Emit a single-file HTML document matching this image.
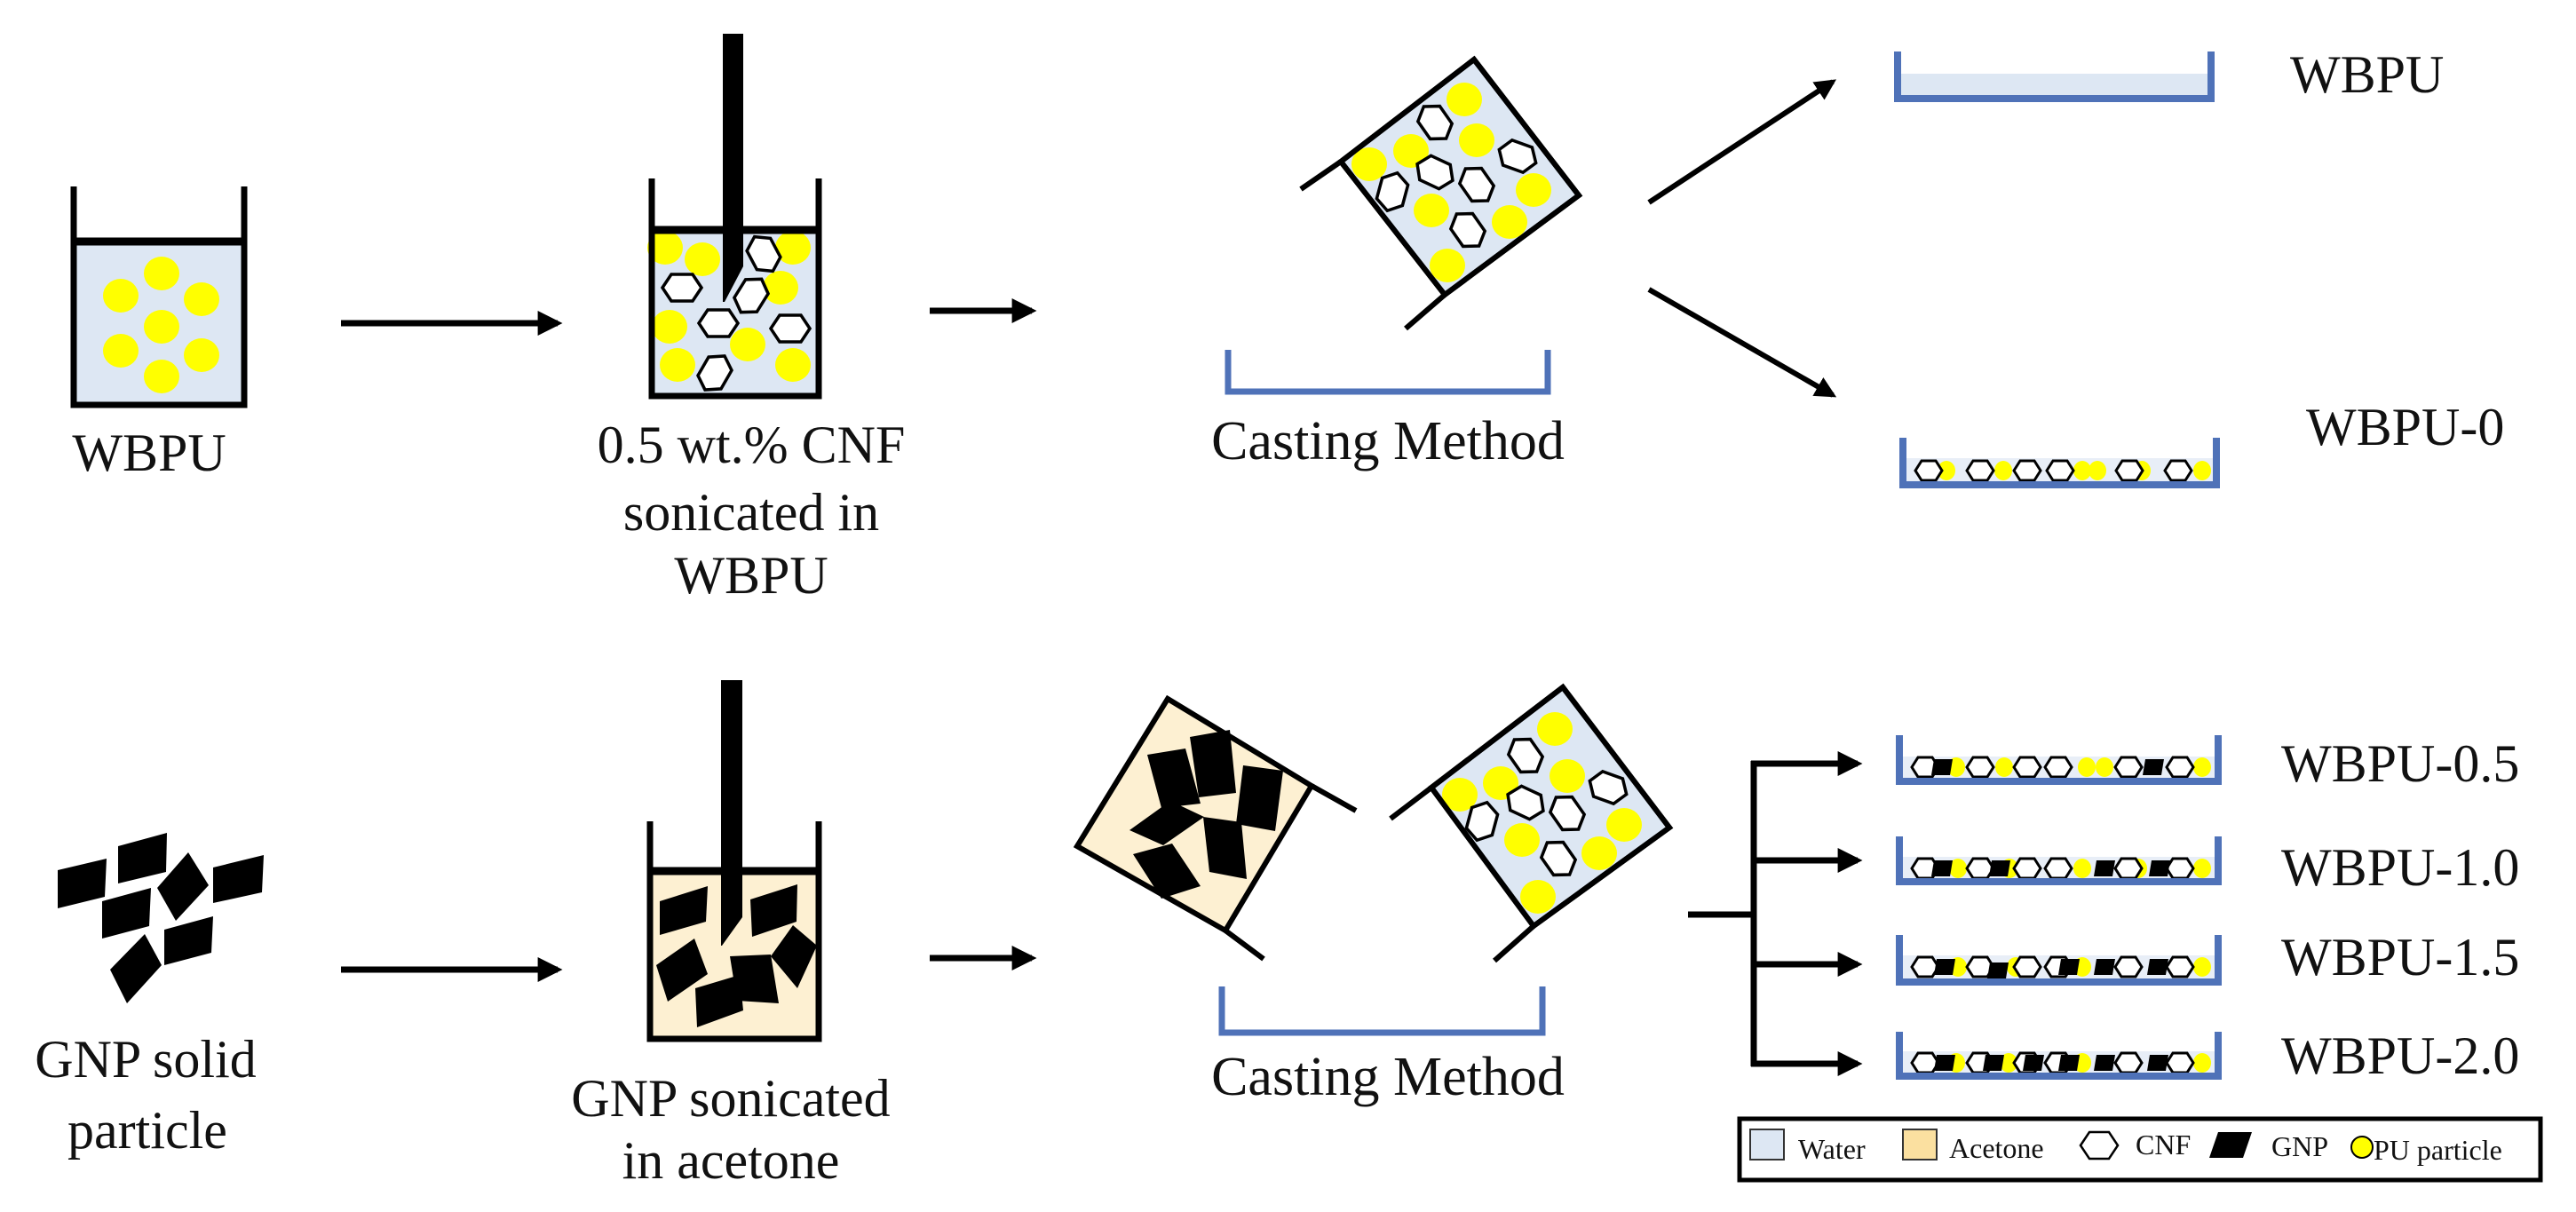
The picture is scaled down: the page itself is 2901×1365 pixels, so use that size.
<!DOCTYPE html>
<html><head><meta charset="utf-8"><style>
html,body{margin:0;padding:0;background:#fff}
svg{display:block}
text{font-family:"Liberation Serif",serif;fill:#111}
</style></head><body>
<svg width="2901" height="1365" viewBox="0 0 2901 1365" xmlns="http://www.w3.org/2000/svg">
<defs>
<marker id="ah" viewBox="0 0 10 10" refX="8" refY="5" markerWidth="4" markerHeight="4" orient="auto" markerUnits="strokeWidth"><path d="M0,0 L10,5 L0,10 z" fill="#000"/></marker>
<polygon id="hx" points="-22,0 -12,-15 12,-15 22,0 12,15 -12,15" fill="#fff" stroke="#000" stroke-width="3.5"/>
<polygon id="sh" points="-15,0 -8,-11 8,-11 15,0 8,11 -8,11" fill="#fff" stroke="#000" stroke-width="3"/>
<polygon id="sg" points="-9,-9 12,-9 9,9 -12,9" fill="#000"/>
<ellipse id="sy" rx="10" ry="11" fill="#ffff00"/>
<ellipse id="yd" rx="20" ry="19" fill="#ffff00"/>
</defs>

<!-- Beaker 1 -->
<rect x="83" y="272" width="192" height="184" fill="#dde7f3"/>
<path d="M83,210 V456 H275 V210" fill="none" stroke="#000" stroke-width="7"/>
<line x1="80" y1="272" x2="278" y2="272" stroke="#000" stroke-width="9"/>
<use href="#yd" x="182" y="308"/><use href="#yd" x="136" y="333"/><use href="#yd" x="227" y="337"/>
<use href="#yd" x="182" y="368"/><use href="#yd" x="136" y="395"/><use href="#yd" x="227" y="400"/><use href="#yd" x="182" y="424"/>
<text x="168" y="530" font-size="60" text-anchor="middle">WBPU</text>

<line x1="384" y1="364" x2="628" y2="364" stroke="#000" stroke-width="7" marker-end="url(#ah)"/>

<!-- Beaker 2 -->
<rect x="734" y="259" width="188" height="185" fill="#dde7f3"/>
<use href="#yd" x="749" y="279"/><use href="#yd" x="791" y="292"/><use href="#yd" x="893" y="279"/><use href="#yd" x="879" y="324"/>
<use href="#yd" x="754" y="368"/><use href="#yd" x="842" y="388"/><use href="#yd" x="763" y="411"/><use href="#yd" x="893" y="411"/>
<use href="#hx" transform="translate(768,324)"/>
<use href="#hx" transform="translate(860,286) rotate(62)"/>
<use href="#hx" transform="translate(846,333) rotate(-58)"/>
<use href="#hx" transform="translate(809,364)"/>
<use href="#hx" transform="translate(890,370)"/>
<use href="#hx" transform="translate(805,420) rotate(-60)"/>
<path d="M734,201 V446 H922 V201" fill="none" stroke="#000" stroke-width="7"/>
<line x1="731" y1="259" x2="925" y2="259" stroke="#000" stroke-width="9"/>
<polygon points="814,38 837,38 837,300 816,340 814,340" fill="#000"/>
<text x="846" y="521" font-size="60" text-anchor="middle">0.5 wt.% CNF</text>
<text x="846" y="597" font-size="60" text-anchor="middle">sonicated in</text>
<text x="846" y="668" font-size="60" text-anchor="middle">WBPU</text>

<line x1="1047" y1="350" x2="1162" y2="350" stroke="#000" stroke-width="7" marker-end="url(#ah)"/>

<!-- Top tilted container -->
<polygon points="1660,67 1778,220 1627,332 1510,182" fill="#dde7f3" stroke="#000" stroke-width="6"/>
<use href="#yd" x="1649" y="112"/><use href="#yd" x="1663" y="158"/><use href="#yd" x="1589" y="170"/><use href="#yd" x="1542" y="185"/>
<use href="#yd" x="1727" y="214"/><use href="#yd" x="1612" y="237"/><use href="#yd" x="1700" y="250"/><use href="#yd" x="1630" y="299"/>
<use href="#hx" transform="translate(1616,138) rotate(55)"/>
<use href="#hx" transform="translate(1709,176) rotate(20)"/>
<use href="#hx" transform="translate(1616,194) rotate(25)"/>
<use href="#hx" transform="translate(1663,208) rotate(55)"/>
<use href="#hx" transform="translate(1568,216) rotate(-75)"/>
<use href="#hx" transform="translate(1653,259) rotate(55)"/>
<polygon points="1660,67 1778,220 1627,332 1510,182" fill="none" stroke="#000" stroke-width="6"/>
<line x1="1510" y1="182" x2="1465" y2="213" stroke="#000" stroke-width="6"/>
<line x1="1627" y1="332" x2="1583" y2="370" stroke="#000" stroke-width="6"/>

<path d="M1383,394 V441 H1743 V394" fill="none" stroke="#4f72b8" stroke-width="7"/>
<text x="1563" y="517" font-size="62" text-anchor="middle">Casting Method</text>

<line x1="1857" y1="228" x2="2064" y2="92" stroke="#000" stroke-width="6" marker-end="url(#ah)"/>
<line x1="1857" y1="326" x2="2064" y2="445" stroke="#000" stroke-width="6" marker-end="url(#ah)"/>

<!-- WBPU tray -->
<rect x="2138" y="83" width="351" height="28" fill="#dde7f3"/>
<path d="M2137,58 V111 H2490 V58" fill="none" stroke="#4f72b8" stroke-width="8"/>
<text x="2579" y="104" font-size="60">WBPU</text>

<!-- WBPU-0 tray -->
<rect x="2142" y="516" width="354" height="30" fill="#e8eef7"/>
<use href="#sy" x="2192" y="530"/><use href="#sy" x="2256" y="530"/><use href="#sy" x="2345" y="530"/><use href="#sy" x="2362" y="530"/><use href="#sy" x="2412" y="530"/><use href="#sy" x="2480" y="530"/>
<use href="#sh" x="2172" y="530"/><use href="#sh" x="2230" y="530"/><use href="#sh" x="2283" y="530"/><use href="#sh" x="2320" y="530"/><use href="#sh" x="2398" y="530"/><use href="#sh" x="2453" y="530"/>
<path d="M2143,493 V546 H2496 V493" fill="none" stroke="#4f72b8" stroke-width="8"/>
<text x="2597" y="501" font-size="60">WBPU-0</text>

<!-- Bottom row -->
<g fill="#000">
<polygon points="65,980 120,967 118,1010 65,1023"/>
<polygon points="133,953 188,938 187,982 133,995"/>
<polygon points="212,960 235,997 198,1037 177,1000"/>
<polygon points="240,977 297,963 295,1005 240,1017"/>
<polygon points="115,1015 170,1000 168,1043 115,1057"/>
<polygon points="185,1047 240,1032 238,1073 185,1087"/>
<polygon points="163,1052 182,1087 143,1130 124,1092"/>
</g>
<text x="164" y="1213" font-size="60" text-anchor="middle">GNP solid</text>
<text x="166" y="1293" font-size="60" text-anchor="middle">particle</text>

<line x1="384" y1="1092" x2="628" y2="1092" stroke="#000" stroke-width="7" marker-end="url(#ah)"/>

<!-- Beaker 3 -->
<rect x="732" y="983" width="190" height="185" fill="#fdf0d2"/>
<g fill="#000">
<polygon points="743,1015 797,998 795,1038 743,1053"/>
<polygon points="845,1013 898,996 897,1038 847,1055"/>
<polygon points="739,1087 782,1057 797,1097 752,1128"/>
<polygon points="868,1077 893,1042 920,1065 898,1113"/>
<polygon points="822,1077 868,1075 877,1130 830,1127"/>
<polygon points="783,1113 833,1098 837,1138 785,1157"/>
</g>
<path d="M732,925 V1170 H922 V925" fill="none" stroke="#000" stroke-width="7"/>
<line x1="729" y1="981" x2="925" y2="981" stroke="#000" stroke-width="9"/>
<polygon points="812,766 836,766 836,1033 813,1065 812,1065" fill="#000"/>
<text x="823" y="1257" font-size="60" text-anchor="middle">GNP sonicated</text>
<text x="823" y="1327" font-size="60" text-anchor="middle">in acetone</text>

<line x1="1047" y1="1079" x2="1162" y2="1079" stroke="#000" stroke-width="7" marker-end="url(#ah)"/>

<!-- Beige tilted container -->
<polygon points="1315,787 1477,885 1380,1048 1213,953" fill="#fdf0d2" stroke="#000" stroke-width="6"/>
<g fill="#000">
<polygon points="1292,850 1335,843 1352,905 1308,910"/>
<polygon points="1340,830 1385,822 1392,893 1350,898"/>
<polygon points="1400,862 1445,868 1436,936 1392,928"/>
<polygon points="1272,935 1318,902 1356,920 1310,952"/>
<polygon points="1355,920 1398,926 1404,990 1362,982"/>
<polygon points="1276,962 1320,950 1352,998 1308,1012"/>
</g>
<line x1="1477" y1="885" x2="1527" y2="913" stroke="#000" stroke-width="6"/>
<line x1="1380" y1="1048" x2="1423" y2="1080" stroke="#000" stroke-width="6"/>

<!-- Blue tilted container -->
<polygon points="1760,774 1880,932 1727,1043 1612,887" fill="#dde7f3" stroke="#000" stroke-width="6"/>
<use href="#yd" x="1751" y="821"/><use href="#yd" x="1765" y="874"/><use href="#yd" x="1690" y="882"/><use href="#yd" x="1644" y="895"/>
<use href="#yd" x="1829" y="929"/><use href="#yd" x="1714" y="946"/><use href="#yd" x="1801" y="961"/><use href="#yd" x="1732" y="1010"/>
<use href="#hx" transform="translate(1718,851) rotate(55)"/>
<use href="#hx" transform="translate(1811,887) rotate(20)"/>
<use href="#hx" transform="translate(1718,904) rotate(25)"/>
<use href="#hx" transform="translate(1765,916) rotate(55)"/>
<use href="#hx" transform="translate(1669,925) rotate(-75)"/>
<use href="#hx" transform="translate(1755,967) rotate(55)"/>
<polygon points="1760,774 1880,932 1727,1043 1612,887" fill="none" stroke="#000" stroke-width="6"/>
<line x1="1612" y1="887" x2="1566" y2="922" stroke="#000" stroke-width="6"/>
<line x1="1727" y1="1043" x2="1683" y2="1082" stroke="#000" stroke-width="6"/>

<path d="M1376,1111 V1163 H1737 V1111" fill="none" stroke="#4f72b8" stroke-width="7"/>
<text x="1563" y="1233" font-size="62" text-anchor="middle">Casting Method</text>

<!-- bracket -->
<g stroke="#000" stroke-width="7" fill="none">
<line x1="1901" y1="1030" x2="1975" y2="1030"/>
<line x1="1975" y1="857" x2="1975" y2="1201"/>
<line x1="1972" y1="860" x2="2092" y2="860" marker-end="url(#ah)"/>
<line x1="1972" y1="969" x2="2092" y2="969" marker-end="url(#ah)"/>
<line x1="1972" y1="1086" x2="2092" y2="1086" marker-end="url(#ah)"/>
<line x1="1972" y1="1198" x2="2092" y2="1198" marker-end="url(#ah)"/>
</g>

<!-- Tray 0.5 -->
<rect x="2143" y="852" width="352" height="28" fill="#e8eef7"/>
<use href="#sy" x="2203" y="864"/><use href="#sy" x="2257" y="864"/><use href="#sy" x="2350" y="864"/><use href="#sy" x="2370" y="864"/><use href="#sy" x="2480" y="864"/>
<use href="#sh" x="2168" y="864"/><use href="#sh" x="2230" y="864"/><use href="#sh" x="2283" y="864"/><use href="#sh" x="2318" y="864"/><use href="#sh" x="2397" y="864"/><use href="#sh" x="2455" y="864"/>
<use href="#sg" x="2187" y="864"/><use href="#sg" x="2425" y="864"/>
<path d="M2139,828 V880 H2498 V828" fill="none" stroke="#4f72b8" stroke-width="8"/>
<text x="2569" y="880" font-size="60">WBPU-0.5</text>

<!-- Tray 1.0 -->
<rect x="2143" y="965" width="352" height="28" fill="#e8eef7"/>
<use href="#sy" x="2205" y="978"/><use href="#sy" x="2263" y="978"/><use href="#sy" x="2345" y="978"/><use href="#sy" x="2408" y="978"/><use href="#sy" x="2480" y="978"/>
<use href="#sh" x="2168" y="978"/><use href="#sh" x="2230" y="978"/><use href="#sh" x="2283" y="978"/><use href="#sh" x="2318" y="978"/><use href="#sh" x="2397" y="978"/><use href="#sh" x="2455" y="978"/>
<use href="#sg" x="2187" y="978"/><use href="#sg" x="2252" y="978"/><use href="#sg" x="2370" y="978"/><use href="#sg" x="2432" y="978"/>
<path d="M2139,942 V993 H2498 V942" fill="none" stroke="#4f72b8" stroke-width="8"/>
<text x="2569" y="997" font-size="60">WBPU-1.0</text>

<!-- Tray 1.5 -->
<rect x="2143" y="1076" width="352" height="28" fill="#e8eef7"/>
<use href="#sy" x="2205" y="1089"/><use href="#sy" x="2270" y="1089"/><use href="#sy" x="2345" y="1089"/><use href="#sy" x="2400" y="1089"/><use href="#sy" x="2480" y="1089"/>
<use href="#sh" x="2168" y="1089"/><use href="#sh" x="2230" y="1089"/><use href="#sh" x="2283" y="1089"/><use href="#sh" x="2318" y="1089"/><use href="#sh" x="2397" y="1089"/><use href="#sh" x="2455" y="1089"/>
<use href="#sg" x="2190" y="1089"/><use href="#sg" x="2250" y="1093"/><use href="#sg" x="2330" y="1089"/><use href="#sg" x="2370" y="1089"/><use href="#sg" x="2430" y="1089"/>
<path d="M2139,1053 V1106 H2498 V1053" fill="none" stroke="#4f72b8" stroke-width="8"/>
<text x="2569" y="1098" font-size="60">WBPU-1.5</text>

<!-- Tray 2.0 -->
<rect x="2143" y="1184" width="352" height="28" fill="#e8eef7"/>
<use href="#sy" x="2203" y="1197"/><use href="#sy" x="2262" y="1197"/><use href="#sy" x="2345" y="1197"/><use href="#sy" x="2400" y="1197"/><use href="#sy" x="2480" y="1197"/>
<use href="#sh" x="2168" y="1197"/><use href="#sh" x="2230" y="1197"/><use href="#sh" x="2283" y="1197"/><use href="#sh" x="2318" y="1197"/><use href="#sh" x="2397" y="1197"/><use href="#sh" x="2455" y="1197"/>
<use href="#sg" x="2190" y="1197"/><use href="#sg" x="2245" y="1197"/><use href="#sg" x="2290" y="1197"/><use href="#sg" x="2330" y="1197"/><use href="#sg" x="2370" y="1197"/><use href="#sg" x="2430" y="1197"/>
<path d="M2139,1162 V1212 H2498 V1162" fill="none" stroke="#4f72b8" stroke-width="8"/>
<text x="2569" y="1209" font-size="60">WBPU-2.0</text>

<!-- Legend -->
<rect x="1959" y="1260" width="902" height="69" fill="#fff" stroke="#000" stroke-width="5"/>
<rect x="1971" y="1272" width="38" height="34" fill="#dde7f3" stroke="#333" stroke-width="2"/>
<text x="2025" y="1305" font-size="32">Water</text>
<rect x="2143" y="1272" width="38" height="34" fill="#fbe0a0" stroke="#333" stroke-width="2"/>
<text x="2195" y="1304" font-size="32">Acetone</text>
<polygon points="2343,1290 2353,1275 2375,1275 2385,1290 2375,1305 2353,1305" fill="#fff" stroke="#000" stroke-width="2.5"/>
<text x="2405" y="1300" font-size="32">CNF</text>
<polygon points="2498,1275 2536,1275 2526,1304 2488,1304" fill="#000"/>
<text x="2558" y="1302" font-size="32">GNP</text>
<circle cx="2660" cy="1292" r="12" fill="#ffff00" stroke="#000" stroke-width="2"/>
<text x="2673" y="1306" font-size="32">PU particle</text>
</svg>
</body></html>
